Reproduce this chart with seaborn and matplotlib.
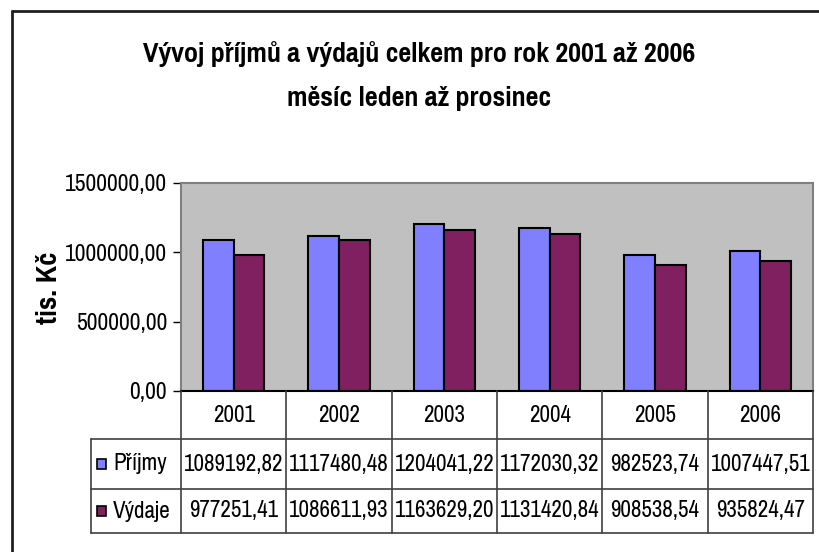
import matplotlib
matplotlib.use("Agg")
import matplotlib.pyplot as plt
from matplotlib.ticker import FuncFormatter
from matplotlib.patches import Rectangle
from matplotlib.lines import Line2D
import seaborn as sns
import pandas as pd

years = ["2001", "2002", "2003", "2004", "2005", "2006"]
prijmy = [1089192.82, 1117480.48, 1204041.22, 1172030.32, 982523.74, 1007447.51]
vydaje = [977251.41, 1086611.93, 1163629.20, 1131420.84, 908538.54, 935824.47]
series_names = ["Příjmy", "Výdaje"]
colors = ["#8080FF", "#802060"]
title_lines = ["Vývoj příjmů a výdajů celkem pro rok 2001 až 2006", "měsíc leden až prosinec"]
ylabel = "tis. Kč"
yticks = [0, 500000, 1000000, 1500000]

sns.set_theme(style="white")
plt.rcParams["font.family"] = ["Pragati Narrow", "DejaVu Sans"]
FS = 18

W, H = 819, 552
fig = plt.figure(figsize=(W / 100, H / 100), dpi=100)
L, R, T, B = 181, 813, 183, 391
ax = fig.add_axes([L / W, 1 - B / H, (R - L) / W, (B - T) / H])

df = pd.DataFrame({
    "year": years * 2,
    "value": prijmy + vydaje,
    "series": [series_names[0]] * len(years) + [series_names[1]] * len(years),
})
sns.barplot(data=df, x="year", y="value", hue="series", palette=colors,
            width=0.58, edgecolor="black", linewidth=1.5, ax=ax, legend=False,
            saturation=1)
ax.set_facecolor("#C0C0C0")
ax.set_xlim(-0.5, 5.5)
ax.set_ylim(0, 1500000)
ax.set_yticks(yticks)
ax.yaxis.set_major_formatter(FuncFormatter(lambda v, p: f"{v:.2f}".replace(".", ",")))
ax.tick_params(axis="y", direction="out", length=6, width=1, color="black",
               labelsize=18.5, pad=4, left=True, labelcolor="black")
ax.tick_params(axis="x", bottom=False, labelbottom=False)
ax.set_xlabel("")
ax.set_ylabel("")
for s in ["top", "right", "left"]:
    ax.spines[s].set_color("#808080")
    ax.spines[s].set_linewidth(1.5)
ax.spines["bottom"].set_color("black")
ax.spines["bottom"].set_linewidth(1.5)

def fx(px):
    return px / W

def fy(py):
    return 1 - py / H

fig.text(fx(419), fy(62), title_lines[0], ha="center", va="baseline", fontsize=22,
         fontweight="bold", color="black")
fig.text(fx(419), fy(106), title_lines[1], ha="center", va="baseline", fontsize=22,
         fontweight="bold", color="black")
fig.text(fx(49), fy(288), ylabel, rotation=90, ha="center", va="center",
         fontsize=23, fontweight="bold", color="black")

lc = "#404040"
lw = 1.2
colw = (R - L) / len(years)
rows = [391, 439, 489, 533]
for y in rows[1:]:
    fig.add_artist(Line2D([fx(91), fx(R)], [fy(y), fy(y)], color=lc, lw=lw))
fig.add_artist(Line2D([fx(91), fx(91)], [fy(439), fy(533)], color=lc, lw=lw))
for i in range(len(years) + 1):
    x = L + i * colw
    fig.add_artist(Line2D([fx(x), fx(x)], [fy(391), fy(533)], color=lc, lw=lw))

for i, yr in enumerate(years):
    cx = L + (i + 0.5) * colw
    fig.text(fx(cx), fy((391 + 439) / 2), yr, ha="center", va="center", fontsize=FS, color="black")
    fig.text(fx(cx), fy((439 + 489) / 2), f"{prijmy[i]:.2f}".replace(".", ","),
             ha="center", va="center", fontsize=FS, color="black")
    fig.text(fx(cx), fy((489 + 533) / 2), f"{vydaje[i]:.2f}".replace(".", ","),
             ha="center", va="center", fontsize=FS, color="black")

for j, (name, c) in enumerate(zip(series_names, colors)):
    yc = (439 + 489) / 2 if j == 0 else (489 + 533) / 2
    fig.add_artist(Rectangle((fx(97), fy(yc + 5)), 9 / W, 10 / H, facecolor=c,
                             edgecolor="black", lw=1.2))
    fig.text(fx(113), fy(yc), name, ha="left", va="center", fontsize=FS, color="black")

fig.add_artist(Line2D([fx(12), fx(12)], [fy(11), 0], color="#202020", lw=2))
fig.add_artist(Line2D([fx(12), 1], [fy(11), fy(11)], color="#202020", lw=2))

fig.savefig("out.png", dpi=100)
